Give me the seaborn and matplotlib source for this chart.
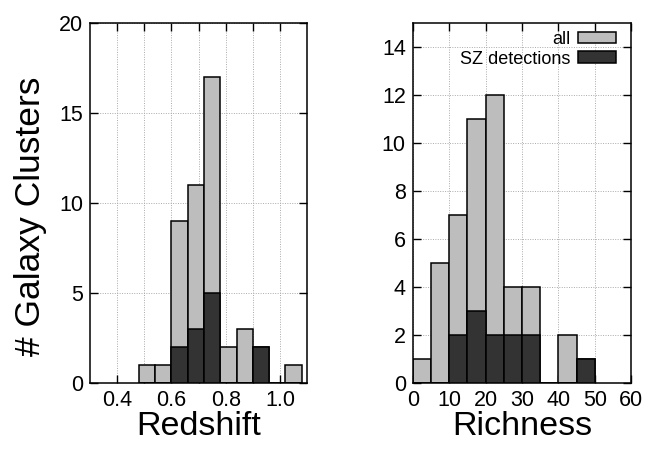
import numpy as np
import pandas as pd
import matplotlib
matplotlib.use("Agg")
import matplotlib.pyplot as plt
import seaborn as sns

# Redshift histogram data
z_edges = [0.48, 0.54, 0.60, 0.66, 0.72, 0.78, 0.84, 0.90, 0.96, 1.02, 1.08]
z_all = [1, 1, 9, 11, 17, 2, 3, 2, 0, 1]
z_sz = [0, 0, 2, 3, 5, 0, 0, 2, 0, 0]

# Richness histogram data
r_edges = [0, 5, 10, 15, 20, 25, 30, 35, 40, 45, 50]
r_all = [1, 5, 7, 11, 12, 4, 4, 0, 2, 1]
r_sz = [0, 0, 2, 3, 2, 2, 2, 0, 0, 1]

light = "#bdbdbd"
dark = "#333333"

sns.set_theme(style="white")
plt.rcParams['font.family'] = ['Liberation Sans', 'DejaVu Sans']
plt.rcParams['text.color'] = 'black'

fig = plt.figure(figsize=(6.48, 4.49), dpi=100)
ax1 = fig.add_axes([0.139, 0.147, 0.335, 0.802])
ax2 = fig.add_axes([0.637, 0.147, 0.337, 0.802])


def centers(edges):
    e = np.asarray(edges)
    return (e[:-1] + e[1:]) / 2


def draw(ax, edges, allc, szc):
    df_all = pd.DataFrame({"x": centers(edges), "w": allc})
    df_sz = pd.DataFrame({"x": centers(edges), "w": szc})
    sns.histplot(data=df_all, x="x", weights="w", bins=edges, ax=ax,
                 color=light, edgecolor="black", linewidth=1.1, alpha=1,
                 label="all", zorder=2)
    sns.histplot(data=df_sz, x="x", weights="w", bins=edges, ax=ax,
                 color=dark, edgecolor="black", linewidth=1.1, alpha=1,
                 label="SZ detections", zorder=3)
    ax.set_xlabel("")
    ax.set_ylabel("")


draw(ax1, z_edges, z_all, z_sz)
draw(ax2, r_edges, r_all, r_sz)

# Left axes formatting
ax1.set_xlim(0.3, 1.1)
ax1.set_ylim(0, 20)
xt = [0.4, 0.5, 0.6, 0.7, 0.8, 0.9, 1.0]
ax1.set_xticks(xt)
ax1.set_xticklabels(["0.4", "", "0.6", "", "0.8", "", "1.0"])
ax1.set_yticks([0, 5, 10, 15, 20])
ax1.set_xlabel("Redshift", fontsize=24.5, labelpad=0, color="black")
ax1.set_ylabel("# Galaxy Clusters", fontsize=25.5, color="black")
ax1.yaxis.set_label_coords(-0.2, 0.462)

# Right axes formatting
ax2.set_xlim(0, 60)
ax2.set_ylim(0, 15)
ax2.set_xticks([0, 10, 20, 30, 40, 50, 60])
ax2.set_yticks([0, 2, 4, 6, 8, 10, 12, 14])
ax2.set_xlabel("Richness", fontsize=24.5, labelpad=0, color="black")

for ax in (ax1, ax2):
    ax.grid(True, which="major", color="#aaaaaa", linestyle=(0, (1, 1.5)),
            linewidth=0.7, zorder=0)
    ax.set_axisbelow(True)
    ax.tick_params(direction="in", length=6, width=1, top=True, right=True,
                   bottom=True, left=True, labelsize=15.5, colors="black",
                   labelcolor="black", pad=5)
    for s in ax.spines.values():
        s.set_visible(True)
        s.set_color("black")
        s.set_linewidth(1.1)

leg = ax2.legend(loc="upper right", frameon=False, markerfirst=False,
                 fontsize=13, handlelength=2.1, handleheight=0.6,
                 handletextpad=0.4, labelspacing=0.15,
                 borderaxespad=0.2, bbox_to_anchor=(0.98, 1.008))
for t in leg.get_texts():
    t.set_color("black")

fig.savefig("out.png", dpi=100, facecolor="white")
